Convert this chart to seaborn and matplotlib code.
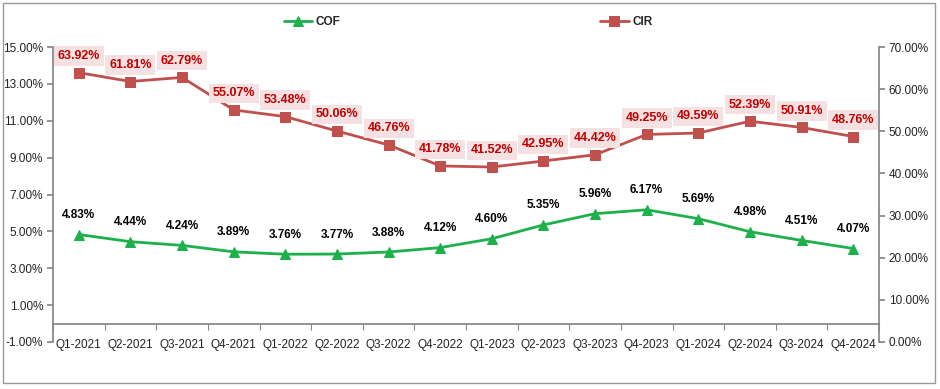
import matplotlib
matplotlib.use("Agg")
import matplotlib.pyplot as plt
import seaborn as sns
import numpy as np
import pandas as pd
from matplotlib.patches import Rectangle
from matplotlib.ticker import FuncFormatter, MultipleLocator, FixedLocator

categories = ["Q1-2021", "Q2-2021", "Q3-2021", "Q4-2021",
              "Q1-2022", "Q2-2022", "Q3-2022", "Q4-2022",
              "Q1-2023", "Q2-2023", "Q3-2023", "Q4-2023",
              "Q1-2024", "Q2-2024", "Q3-2024", "Q4-2024"]
cof = [4.83, 4.44, 4.24, 3.89, 3.76, 3.77, 3.88, 4.12,
       4.60, 5.35, 5.96, 6.17, 5.69, 4.98, 4.51, 4.07]
cir = [63.92, 61.81, 62.79, 55.07, 53.48, 50.06, 46.76, 41.78,
       41.52, 42.95, 44.42, 49.25, 49.59, 52.39, 50.91, 48.76]

sns.set_theme(style="white")
plt.rcParams['font.family'] = ['Liberation Sans', 'DejaVu Sans']

df = pd.DataFrame({"pos": np.arange(len(categories)), "COF": cof, "CIR": cir})

fig = plt.figure(figsize=(9.4, 3.89), dpi=100)
ax = fig.add_axes([53/940, 1-342/389, (879-53)/940, (342-47)/389])
ax2 = ax.twinx()

green = "#1db04b"
red = "#c0504d"
grey = "#868686"

sns.lineplot(data=df, x="pos", y="COF", ax=ax, color=green, marker="^",
             markersize=7, markeredgecolor=green, linewidth=2, label="COF", legend=False)
sns.lineplot(data=df, x="pos", y="CIR", ax=ax2, color=red, marker="s",
             markersize=7, markeredgecolor=red, linewidth=2, label="CIR", legend=False)

ax.set_xlim(-0.5, len(categories) - 0.5)
ax.set_ylim(-1, 15)
ax2.set_ylim(0, 70)
ax.yaxis.set_major_locator(MultipleLocator(2))
ax.yaxis.set_major_locator(FixedLocator([-1, 1, 3, 5, 7, 9, 11, 13, 15]))
ax2.yaxis.set_major_locator(MultipleLocator(10))
ax.yaxis.set_major_formatter(FuncFormatter(lambda v, p: f"{v:.2f}%"))
ax2.yaxis.set_major_formatter(FuncFormatter(lambda v, p: f"{v:.2f}%"))

ax.set_xticks(df["pos"])
ax.set_xticklabels(categories)
ax.set_xticks(np.arange(-0.5, len(categories)), minor=True)
ax.set_xlabel("")
ax.set_ylabel("")
ax2.set_ylabel("")

for a in (ax, ax2):
    for s in a.spines.values():
        s.set_visible(False)
    a.grid(False)
ax.spines['left'].set_visible(True)
ax.spines['left'].set_color(grey)
ax2.spines['right'].set_visible(True)
ax2.spines['right'].set_color(grey)
ax.spines['bottom'].set_visible(True)
ax.spines['bottom'].set_color(grey)
ax.spines['bottom'].set_position(('data', 0))

ax.tick_params(axis='x', which='major', length=0, pad=11, labelsize=8.5, colors="#222222")
ax.tick_params(axis='x', which='minor', bottom=True, length=4, color=grey, width=0.8)
ax.tick_params(axis='y', left=True, length=4, color=grey, labelsize=8.5, labelcolor="#222222", pad=3)
ax2.tick_params(axis='y', right=True, length=4, color=grey, labelsize=8.5, labelcolor="#222222", pad=3)

for x, v in zip(df["pos"], cof):
    ax.annotate(f"{v:.2f}%", (x, v), xytext=(0, 14), textcoords="offset points",
                ha="center", va="center", fontsize=8.5, fontweight="bold", color="black")
for x, v in zip(df["pos"], cir):
    ax2.annotate(f"{v:.2f}%", (x, v), xytext=(0, 12), textcoords="offset points",
                 ha="center", va="center", fontsize=9, fontweight="bold", color="#c00000",
                 bbox=dict(boxstyle="square,pad=0.3", fc="#f5e1e1", ec="none"))

h1, l1 = ax.get_legend_handles_labels()
h2, l2 = ax2.get_legend_handles_labels()
fig.legend(h1 + h2, l1 + l2, loc="center", bbox_to_anchor=(0.498, 1 - 22/389), ncol=2,
           frameon=False, fontsize=8.5, handlelength=2.4, handletextpad=0.3,
           columnspacing=22, prop={'weight': 'bold', 'size': 8.5})

fig.patches.append(Rectangle((3/940, 6/389), 932/940, 380/389, transform=fig.transFigure,
                             fill=False, edgecolor="#999999", linewidth=1))

fig.savefig("out.png", dpi=100)
